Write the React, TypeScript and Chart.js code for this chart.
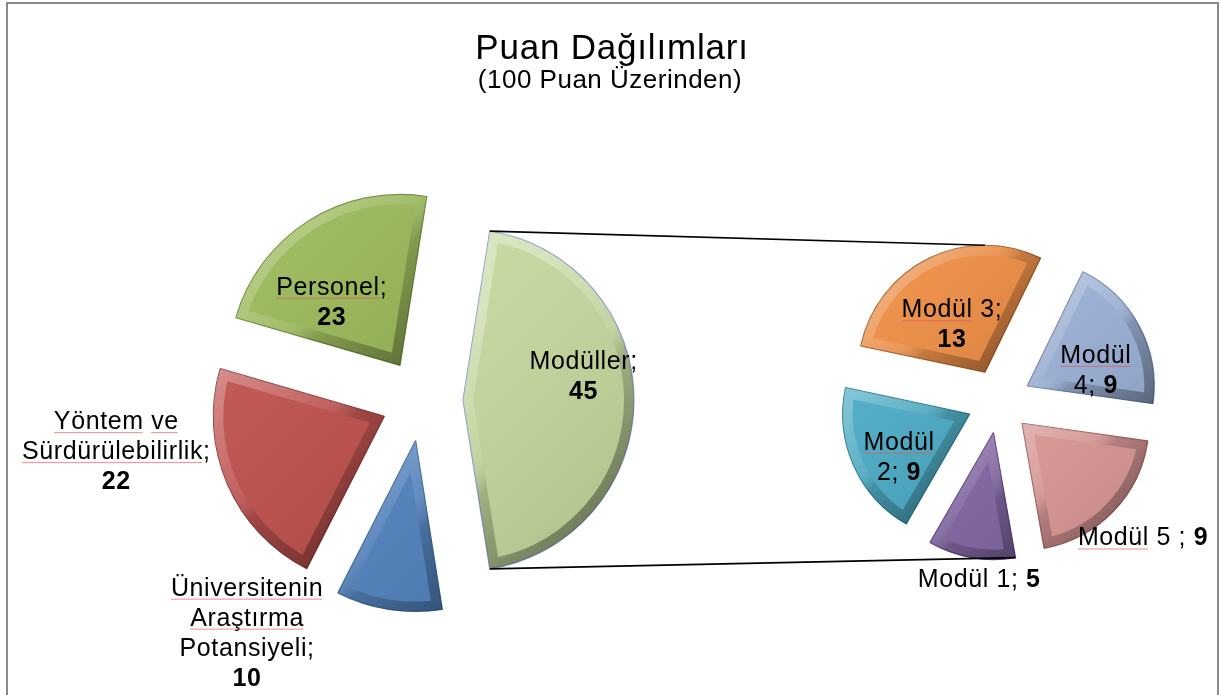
import React, { useEffect, useRef } from 'react';
import { Chart, registerables } from 'chart.js';

Chart.register(...registerables);

const TITLE = 'Puan Dağılımları';
const SUBTITLE = '(100 Puan Üzerinden)';

// Primary pie, clockwise starting with the split ("other") slice
const mainCategories = ['Modüller', 'Üniversitenin Araştırma Potansiyeli', 'Yöntem ve Sürdürülebilirlik', 'Personel'];
const mainValues = [45, 10, 22, 23];

// Secondary pie: breakdown of "Modüller"
const moduleCategories = ['Modül 3', 'Modül 4', 'Modül 5 ', 'Modül 1', 'Modül 2'];
const moduleValues = [13, 9, 9, 5, 9];

const mainColors = ['#C3D69B', '#4F81BD', '#C0504D', '#9BBB59'];
const mainBorders = ['#8C9DC4', '#3A6497', '#8E3A38', '#6F8A3C'];
const moduleColors = ['#F08F45', '#9AB0D6', '#D99694', '#8064A2', '#4BACC6'];
const moduleBorders = ['#A85E25', '#6C82A8', '#9E6462', '#56407A', '#2E7C91'];

// label wrapping (words per line) and whether the value sits on the last line
const mainWrap = [[1], [1, 1, 1], [2, 1], [1]];
const mainValueInline = [false, false, false, false];
const moduleWrap = [[2], [1, 1], [3], [2], [1, 1]];
const moduleValueInline = [false, true, true, true, true];
const mainSpell = [false, true, true, true];
const moduleSpell = [true, true, true, false, true];
const SPELL_WORDS = new Set(['Personel', 'Yöntem', 've', 'Sürdürülebilirlik', 'Üniversitenin', 'Araştırma', 'Modül']);

// label anchor: polar offset from slice tip (k * radius at mid angle + da degrees)
const mainLabelK = [0.72, 1.49, 1.58, 0.55];
const mainLabelDa = [-11.7, 32.4, 16.2, -14.2];
const moduleLabelK = [0.465, 0.557, 1.305, 1.155, 0.646];
const moduleLabelDa = [-8, 14, -0.9, -4.4, -6.4];

const FONT = '"Liberation Sans", Arial, sans-serif';
const MAIN_EXPLODE = 41;
const MODULE_EXPLODE = 32;

type Seg = { text: string; bold?: boolean; underline?: boolean };

function buildLines(name: string, value: number, wrap: number[], inline: boolean, spell: boolean): Seg[][] {
  const words = name.split(' ');
  const lines: Seg[][] = [];
  let wi = 0;
  wrap.forEach((count, li) => {
    const segs: Seg[] = [];
    for (let j = 0; j < count; j++) {
      const w = words[wi++];
      if (j > 0) segs.push({ text: ' ' });
      if (w) segs.push({ text: w, underline: spell && SPELL_WORDS.has(w) });
    }
    if (li === wrap.length - 1) segs.push({ text: ';' });
    lines.push(segs);
  });
  if (inline) {
    lines[lines.length - 1].push({ text: ' ' }, { text: String(value), bold: true });
  } else {
    lines.push([{ text: String(value), bold: true }]);
  }
  return lines;
}

function drawLabel(ctx: CanvasRenderingContext2D, cx: number, cy: number, lines: Seg[][]) {
  const L = 30;
  const cap = 18;
  const n = lines.length;
  let baseline = cy - ((n - 1) * L + cap) / 2 + cap;
  ctx.save();
  (ctx as any).letterSpacing = '0.6px';
  ctx.textAlign = 'left';
  ctx.textBaseline = 'alphabetic';
  for (const line of lines) {
    const widths = line.map((s) => {
      ctx.font = `${s.bold ? 'bold ' : ''}25px ${FONT}`;
      return ctx.measureText(s.text).width;
    });
    const total = widths.reduce((a, b) => a + b, 0);
    let x = cx - total / 2;
    line.forEach((s, i) => {
      ctx.font = `${s.bold ? 'bold ' : ''}25px ${FONT}`;
      ctx.fillStyle = '#000';
      ctx.fillText(s.text, x, baseline);
      if (s.underline) {
        ctx.strokeStyle = 'rgba(225,90,90,0.7)';
        ctx.lineWidth = 1;
        ctx.beginPath();
        ctx.moveTo(x, baseline + 3.5);
        ctx.lineTo(x + widths[i] - 1, baseline + 3.5);
        ctx.stroke();
      }
      x += widths[i];
    });
    baseline += L;
  }
  ctx.restore();
}

function drawBevel(ctx: CanvasRenderingContext2D, el: any) {
  const { x, y, startAngle, endAngle, outerRadius: r } = el;
  const mid = (startAngle + endAngle) / 2;
  const gx = x + Math.cos(mid) * r * 0.55;
  const gy = y + Math.sin(mid) * r * 0.55;
  ctx.save();
  ctx.beginPath();
  ctx.moveTo(x, y);
  ctx.arc(x, y, r, startAngle, endAngle);
  ctx.closePath();
  ctx.clip();
  // soft body shading
  const body = ctx.createLinearGradient(gx - r * 0.6, gy - r * 0.6, gx + r * 0.6, gy + r * 0.6);
  body.addColorStop(0, 'rgba(255,255,255,0.06)');
  body.addColorStop(1, 'rgba(0,0,0,0.10)');
  ctx.fillStyle = body;
  ctx.fill();
  // bevel band
  const g = ctx.createLinearGradient(gx - r * 0.5, gy - r * 0.5, gx + r * 0.5, gy + r * 0.5);
  g.addColorStop(0, 'rgba(255,255,255,0.32)');
  g.addColorStop(0.45, 'rgba(255,255,255,0.08)');
  g.addColorStop(0.55, 'rgba(0,0,0,0.14)');
  g.addColorStop(1, 'rgba(0,0,0,0.40)');
  ctx.lineJoin = 'miter';
  ctx.lineWidth = 20;
  ctx.strokeStyle = g;
  ctx.stroke();
  ctx.restore();
}

function explodePlugin(dist: number) {
  return {
    id: 'explodeBevel',
    beforeDatasetDraw(chart: any, args: any) {
      const ctx = chart.ctx as CanvasRenderingContext2D;
      args.meta.data.forEach((el: any) => {
        const mid = (el.startAngle + el.endAngle) / 2;
        ctx.save();
        ctx.translate(Math.cos(mid) * dist, Math.sin(mid) * dist);
        el.draw(ctx);
        drawBevel(ctx, el);
        ctx.restore();
      });
      return false;
    },
  };
}

function labelsPlugin(
  cats: string[], vals: number[], wrap: number[][], inline: boolean[], spell: boolean[],
  ks: number[], das: number[], dist: number, withTitle: boolean
) {
  return {
    id: 'sliceLabels',
    afterDatasetsDraw(chart: any) {
      const ctx = chart.ctx as CanvasRenderingContext2D;
      if (withTitle) {
        ctx.save();
        ctx.fillStyle = '#000';
        ctx.textAlign = 'center';
        ctx.textBaseline = 'alphabetic';
        (ctx as any).letterSpacing = '0.8px';
        ctx.font = `35px ${FONT}`;
        ctx.fillText(TITLE, 612, 59);
        (ctx as any).letterSpacing = '0.5px';
        ctx.font = `26px ${FONT}`;
        ctx.fillText(SUBTITLE, 610, 88);
        ctx.restore();
      }
      const meta = chart.getDatasetMeta(0);
      meta.data.forEach((el: any, i: number) => {
        const mid = (el.startAngle + el.endAngle) / 2;
        const tx = el.x + Math.cos(mid) * dist;
        const ty = el.y + Math.sin(mid) * dist;
        const a = mid + (das[i] * Math.PI) / 180;
        const d = ks[i] * el.outerRadius;
        drawLabel(ctx, tx + Math.cos(a) * d, ty + Math.sin(a) * d,
          buildLines(cats[i], vals[i], wrap[i], inline[i], spell[i]));
      });
    },
  };
}

const TAU = Math.PI * 2;
function contains(el: any, t: number) {
  const s = ((el.startAngle % TAU) + TAU) % TAU;
  const span = el.endAngle - el.startAngle;
  const tt = ((t % TAU) + TAU) % TAU;
  return (tt >= s && tt <= s + span) || (tt + TAU >= s && tt + TAU <= s + span);
}

function connectorPlugin(getMain: () => any) {
  return {
    id: 'connectors',
    afterDatasetsDraw(chart: any) {
      const main = getMain();
      if (!main) return;
      const other = main.getDatasetMeta(0).data[0] as any;
      const om = (other.startAngle + other.endAngle) / 2;
      const ox = other.x + Math.cos(om) * MAIN_EXPLODE;
      const oy = other.y + Math.sin(om) * MAIN_EXPLODE;
      const r = other.outerRadius;
      const a1 = [ox + r * Math.cos(other.startAngle), oy + r * Math.sin(other.startAngle)];
      const a2 = [ox + r * Math.cos(other.endAngle), oy + r * Math.sin(other.endAngle)];
      const els = chart.getDatasetMeta(0).data as any[];
      const topEl = els.find((e) => contains(e, -Math.PI / 2));
      const botEl = els.find((e) => contains(e, Math.PI / 2));
      const pt = (e: any, ang: number) => {
        const m = (e.startAngle + e.endAngle) / 2;
        return [
          e.x + Math.cos(m) * MODULE_EXPLODE + e.outerRadius * Math.cos(ang),
          e.y + Math.sin(m) * MODULE_EXPLODE + e.outerRadius * Math.sin(ang),
        ];
      };
      const b1 = pt(topEl, -Math.PI / 2);
      const b2 = pt(botEl, botEl.startAngle);
      const ctx = chart.ctx as CanvasRenderingContext2D;
      ctx.save();
      ctx.strokeStyle = '#000';
      ctx.lineWidth = 1.6;
      ctx.beginPath();
      ctx.moveTo(a1[0], a1[1]);
      ctx.lineTo(b1[0], b1[1]);
      ctx.moveTo(a2[0], a2[1]);
      ctx.lineTo(b2[0], b2[1]);
      ctx.stroke();
      ctx.restore();
    },
  };
}

export default function App() {
  const mainRef = useRef<HTMLCanvasElement>(null);
  const modRef = useRef<HTMLCanvasElement>(null);

  useEffect(() => {
    if (!mainRef.current || !modRef.current) return;
    const mainChart = new Chart(mainRef.current, {
      type: 'pie',
      data: {
        labels: mainCategories,
        datasets: [{
          data: mainValues,
          backgroundColor: mainColors,
          borderColor: mainBorders,
          borderWidth: 1.2,
          rotation: 9,
          radius: 171,
        } as any],
      },
      options: {
        animation: false,
        responsive: false,
        events: [],
        rotation: 9,
        radius: 171,
        layout: { padding: { left: 0, right: 378, top: 105, bottom: 0 } },
        plugins: { legend: { display: false }, tooltip: { enabled: false }, title: { display: false } },
      } as any,
      plugins: [
        explodePlugin(MAIN_EXPLODE),
        labelsPlugin(mainCategories, mainValues, mainWrap, mainValueInline, mainSpell, mainLabelK, mainLabelDa, MAIN_EXPLODE, true),
      ],
    });
    const modChart = new Chart(modRef.current, {
      type: 'pie',
      data: {
        labels: moduleCategories,
        datasets: [{
          data: moduleValues,
          backgroundColor: moduleColors,
          borderColor: moduleBorders,
          borderWidth: 1.2,
          rotation: 282,
          radius: 127,
        } as any],
      },
      options: {
        animation: false,
        responsive: false,
        events: [],
        rotation: 282,
        radius: 127,
        layout: { padding: { left: 776, right: 0, top: 107, bottom: 0 } },
        plugins: { legend: { display: false }, tooltip: { enabled: false }, title: { display: false } },
      } as any,
      plugins: [
        explodePlugin(MODULE_EXPLODE),
        labelsPlugin(moduleCategories, moduleValues, moduleWrap, moduleValueInline, moduleSpell, moduleLabelK, moduleLabelDa, MODULE_EXPLODE, false),
        connectorPlugin(() => mainChart),
      ],
    });
    return () => {
      modChart.destroy();
      mainChart.destroy();
    };
  }, []);

  return (
    <div style={{ position: 'fixed', left: 0, top: 0, width: 1222, height: 695, overflow: 'hidden', background: '#fff' }}>
      <div style={{ position: 'absolute', left: 6, top: 2, width: 1209, height: 720, border: '2px solid #8a8a8a' }} />
      <canvas ref={mainRef} width={1222} height={695} style={{ position: 'absolute', left: 0, top: 0 }} />
      <canvas ref={modRef} width={1222} height={695} style={{ position: 'absolute', left: 0, top: 0 }} />
    </div>
  );
}
